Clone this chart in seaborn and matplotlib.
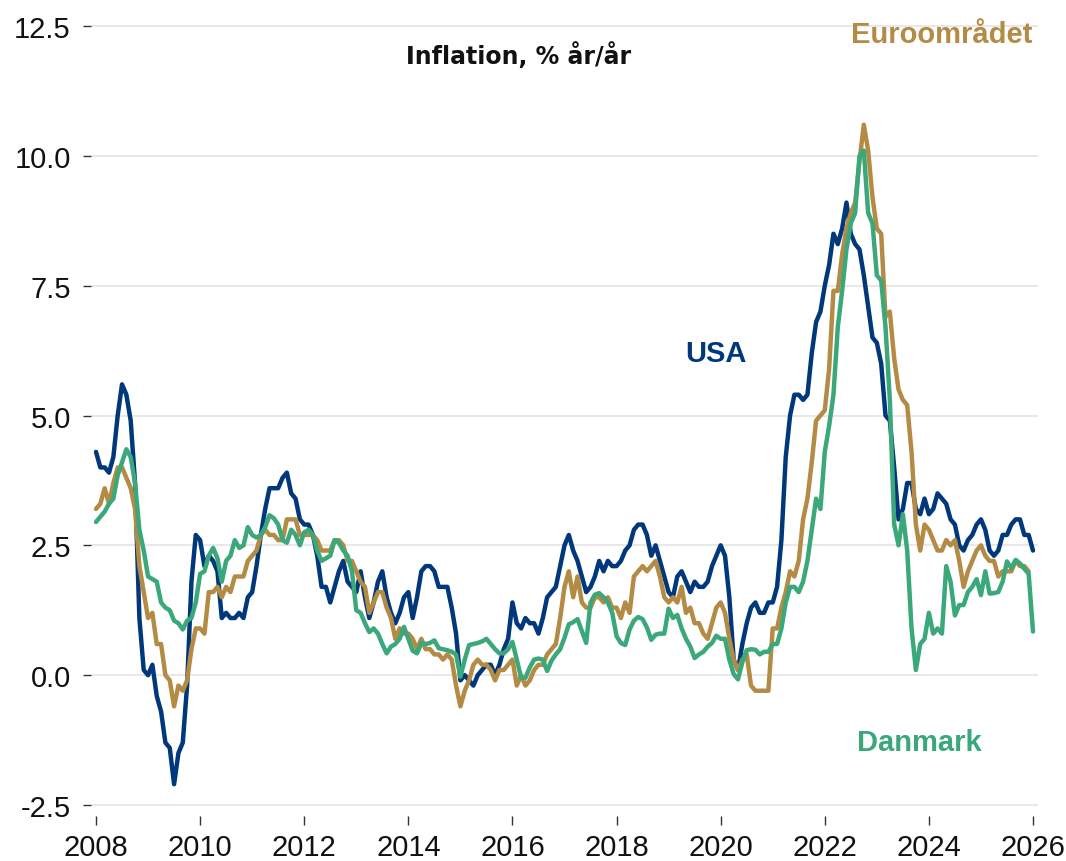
import matplotlib

matplotlib.use("Agg")

import matplotlib.pyplot as plt
from matplotlib.ticker import FormatStrFormatter
import numpy as np
import pandas as pd
import seaborn as sns

# monthly y/y inflation, Jan 2008 onwards
usa = [
    4.3, 4.0, 4.0, 3.9, 4.2, 5.0, 5.6, 5.4, 4.9, 3.7, 1.1, 0.1,
    0.0, 0.2, -0.4, -0.7, -1.3, -1.4, -2.1, -1.5, -1.3, -0.2, 1.8, 2.7,
    2.6, 2.1, 2.3, 2.2, 2.0, 1.1, 1.2, 1.1, 1.1, 1.2, 1.1, 1.5,
    1.6, 2.1, 2.7, 3.2, 3.6, 3.6, 3.6, 3.8, 3.9, 3.5, 3.4, 3.0,
    2.9, 2.9, 2.7, 2.3, 1.7, 1.7, 1.4, 1.7, 2.0, 2.2, 1.8, 1.7,
    1.6, 2.0, 1.5, 1.1, 1.4, 1.8, 2.0, 1.5, 1.2, 1.0, 1.2, 1.5,
    1.6, 1.1, 1.5, 2.0, 2.1, 2.1, 2.0, 1.7, 1.7, 1.7, 1.3, 0.8,
    -0.1, 0.0, -0.1, -0.2, 0.0, 0.1, 0.2, 0.2, 0.0, 0.2, 0.5, 0.7,
    1.4, 1.0, 0.9, 1.1, 1.0, 1.0, 0.8, 1.1, 1.5, 1.6, 1.7, 2.1,
    2.5, 2.7, 2.4, 2.2, 1.9, 1.6, 1.7, 1.9, 2.2, 2.0, 2.2, 2.1,
    2.1, 2.2, 2.4, 2.5, 2.8, 2.9, 2.9, 2.7, 2.3, 2.5, 2.2, 1.9,
    1.6, 1.5, 1.9, 2.0, 1.8, 1.6, 1.8, 1.7, 1.7, 1.8, 2.1, 2.3,
    2.5, 2.3, 1.5, 0.3, 0.1, 0.6, 1.0, 1.3, 1.4, 1.2, 1.2, 1.4,
    1.4, 1.7, 2.6, 4.2, 5.0, 5.4, 5.4, 5.3, 5.4, 6.2, 6.8, 7.0,
    7.5, 7.9, 8.5, 8.3, 8.6, 9.1, 8.5, 8.3, 8.2, 7.7, 7.1, 6.5,
    6.4, 6.0, 5.0, 4.9, 4.0, 3.0, 3.2, 3.7, 3.7, 3.2, 3.1, 3.4,
    3.1, 3.2, 3.5, 3.4, 3.3, 3.0, 2.9, 2.5, 2.4, 2.6, 2.7, 2.9,
    3.0, 2.8, 2.4, 2.3, 2.4, 2.7, 2.7, 2.9, 3.0, 3.0, 2.7, 2.7,
    2.4,
]

euro = [
    3.2, 3.3, 3.6, 3.3, 3.7, 4.0, 4.0, 3.8, 3.6, 3.2, 2.1, 1.6,
    1.1, 1.2, 0.6, 0.6, 0.0, -0.1, -0.6, -0.2, -0.3, -0.1, 0.5, 0.9,
    0.9, 0.8, 1.6, 1.6, 1.7, 1.5, 1.7, 1.6, 1.9, 1.9, 1.9, 2.2,
    2.3, 2.4, 2.7, 2.8, 2.7, 2.7, 2.6, 2.6, 3.0, 3.0, 3.0, 2.7,
    2.7, 2.7, 2.7, 2.6, 2.4, 2.4, 2.4, 2.6, 2.6, 2.5, 2.2, 2.2,
    2.0, 1.8, 1.7, 1.2, 1.4, 1.6, 1.6, 1.3, 1.1, 0.7, 0.9, 0.8,
    0.8, 0.7, 0.5, 0.7, 0.5, 0.5, 0.4, 0.4, 0.3, 0.4, 0.3, -0.2,
    -0.6, -0.3, -0.1, 0.2, 0.3, 0.2, 0.2, 0.1, -0.1, 0.1, 0.1, 0.2,
    0.3, -0.2, 0.0, -0.2, -0.1, 0.1, 0.2, 0.2, 0.4, 0.5, 0.6, 1.1,
    1.7, 2.0, 1.5, 1.9, 1.4, 1.3, 1.3, 1.5, 1.5, 1.4, 1.5, 1.3,
    1.3, 1.1, 1.4, 1.2, 1.9, 2.0, 2.1, 2.0, 2.1, 2.2, 1.9, 1.5,
    1.4, 1.5, 1.4, 1.7, 1.2, 1.3, 1.0, 1.0, 0.8, 0.7, 1.0, 1.3,
    1.4, 1.2, 0.7, 0.3, 0.1, 0.3, 0.4, -0.2, -0.3, -0.3, -0.3, -0.3,
    0.9, 0.9, 1.3, 1.6, 2.0, 1.9, 2.2, 3.0, 3.4, 4.1, 4.9, 5.0,
    5.1, 5.9, 7.4, 7.4, 8.1, 8.6, 8.9, 9.1, 9.9, 10.6, 10.1, 9.2,
    8.6, 8.5, 6.9, 7.0, 6.1, 5.5, 5.3, 5.2, 4.3, 2.9, 2.4, 2.9,
    2.8, 2.6, 2.4, 2.4, 2.6, 2.5, 2.6, 2.2, 1.7, 2.0, 2.2, 2.4,
    2.5, 2.3, 2.2, 2.2, 1.9, 2.0, 2.0, 2.0, 2.2, 2.1, 2.1, 2.0,
]

danmark = [
    2.95, 3.05, 3.15, 3.3, 3.4, 3.85, 4.1, 4.35, 4.2, 3.7, 2.8, 2.4,
    1.9, 1.85, 1.8, 1.4, 1.3, 1.25, 1.05, 1.0, 0.88, 1.05, 1.1, 1.4,
    1.95, 2.0, 2.3, 2.45, 2.25, 1.8, 2.2, 2.3, 2.6, 2.45, 2.5, 2.85,
    2.7, 2.65, 2.7, 2.85, 3.08, 3.02, 2.9, 2.6, 2.55, 2.8, 2.7, 2.5,
    2.75, 2.8, 2.7, 2.4, 2.2, 2.25, 2.3, 2.6, 2.55, 2.4, 2.3, 2.0,
    1.25, 1.2, 1.0, 0.83, 0.9, 0.8, 0.6, 0.42, 0.55, 0.6, 0.7, 0.93,
    0.7, 0.47, 0.42, 0.62, 0.6, 0.62, 0.67, 0.52, 0.5, 0.48, 0.45, 0.4,
    -0.03, 0.3, 0.58, 0.6, 0.62, 0.65, 0.7, 0.6, 0.5, 0.42, 0.42, 0.5,
    0.64, 0.3, -0.05, -0.05, 0.15, 0.3, 0.32, 0.3, 0.08, 0.28, 0.4, 0.5,
    0.72, 0.98, 1.02, 1.08, 0.85, 0.62, 1.4, 1.55, 1.58, 1.5, 1.4, 1.2,
    0.75, 0.62, 0.58, 0.88, 1.05, 1.12, 1.08, 0.92, 0.68, 0.78, 0.8, 0.8,
    1.28, 1.1, 1.16, 0.9, 0.7, 0.55, 0.33, 0.4, 0.45, 0.55, 0.62, 0.76,
    0.7, 0.7, 0.3, 0.02, -0.08, 0.25, 0.48, 0.5, 0.49, 0.4, 0.45, 0.45,
    0.6, 0.6, 0.9, 1.4, 1.7, 1.7, 1.6, 1.8, 2.2, 2.8, 3.4, 3.2,
    4.3, 4.8, 5.4, 6.7, 7.4, 8.2, 8.7, 8.9, 10.0, 10.1, 8.9, 8.7,
    7.7, 7.6, 6.7, 5.3, 2.9, 2.5, 3.1, 2.4, 0.9, 0.1, 0.6, 0.7,
    1.2, 0.8, 0.9, 0.8, 2.1, 1.8, 1.15, 1.35, 1.35, 1.6, 1.7, 1.85,
    1.54, 2.0, 1.57, 1.58, 1.6, 1.8, 2.19, 2.06, 2.22, 2.15, 2.05, 1.95,
    0.84,
]

series_names = ["USA", "Euroområdet", "Danmark"]
colors = {"USA": "#00387B", "Euroområdet": "#B48B44", "Danmark": "#3AA87A"}
year_ticks = list(range(2008, 2027, 2))
y_ticks = [-2.5, 0.0, 2.5, 5.0, 7.5, 10.0, 12.5]


def to_frame(name, values):
    months = np.arange(len(values))
    return pd.DataFrame({"year": 2008 + months / 12, "value": values, "series": name})


df = pd.concat(
    [to_frame("USA", usa), to_frame("Euroområdet", euro), to_frame("Danmark", danmark)],
    ignore_index=True,
)

sns.set_theme(style="white")
plt.rcParams["font.family"] = ["Liberation Sans", "DejaVu Sans"]
plt.rcParams["axes.unicode_minus"] = False

W, H = 1066, 862
fig = plt.figure(figsize=(W / 100, H / 100), dpi=100)
ax = fig.add_axes([91 / W, (H - 808.6) / H, (1038 - 91) / W, (808.6 - 24.4) / H])

sns.lineplot(
    data=df,
    x="year",
    y="value",
    hue="series",
    hue_order=series_names,
    palette=colors,
    linewidth=3.2,
    legend=False,
    ax=ax,
)

ax.set_xlim(2008 - 5 / 52.06, 2026 + 5 / 52.06)
ax.set_ylim(-2.55, 12.55)
ax.set_xticks(year_ticks)
ax.set_yticks(y_ticks)
ax.yaxis.set_major_formatter(FormatStrFormatter("%.1f"))
ax.set_xlabel("")
ax.set_ylabel("")

ax.grid(axis="y", color="#e4e4e4", linewidth=1.2)
ax.grid(axis="x", visible=False)
for side in ["top", "right", "left", "bottom"]:
    ax.spines[side].set_visible(False)
ax.spines["bottom"].set_position(("outward", 6))

ax.tick_params(axis="x", which="major", bottom=True, length=6.5, width=1.0,
               color="#333333", pad=6, labelsize=21, labelcolor="#111111")
ax.tick_params(axis="y", which="major", left=True, length=5.5, width=1.0,
               color="#333333", pad=9, labelsize=21, labelcolor="#111111")

fig.text(519 / W, 1 - 63.5 / H, "Inflation, % år/år", ha="center", va="baseline",
         fontsize=17, fontweight="bold", family=["DejaVu Sans"], color="#111111")
fig.text(942 / W, 1 - 43 / H, "Euroområdet", ha="center", va="baseline",
         fontsize=21, fontweight="bold", color=colors["Euroområdet"])
fig.text(716 / W, 1 - 362 / H, "USA", ha="center", va="baseline",
         fontsize=21, fontweight="bold", color=colors["USA"])
fig.text(919 / W, 1 - 751.5 / H, "Danmark", ha="center", va="baseline",
         fontsize=21, fontweight="bold", color=colors["Danmark"])

fig.savefig("out.png", dpi=100, facecolor="white")
